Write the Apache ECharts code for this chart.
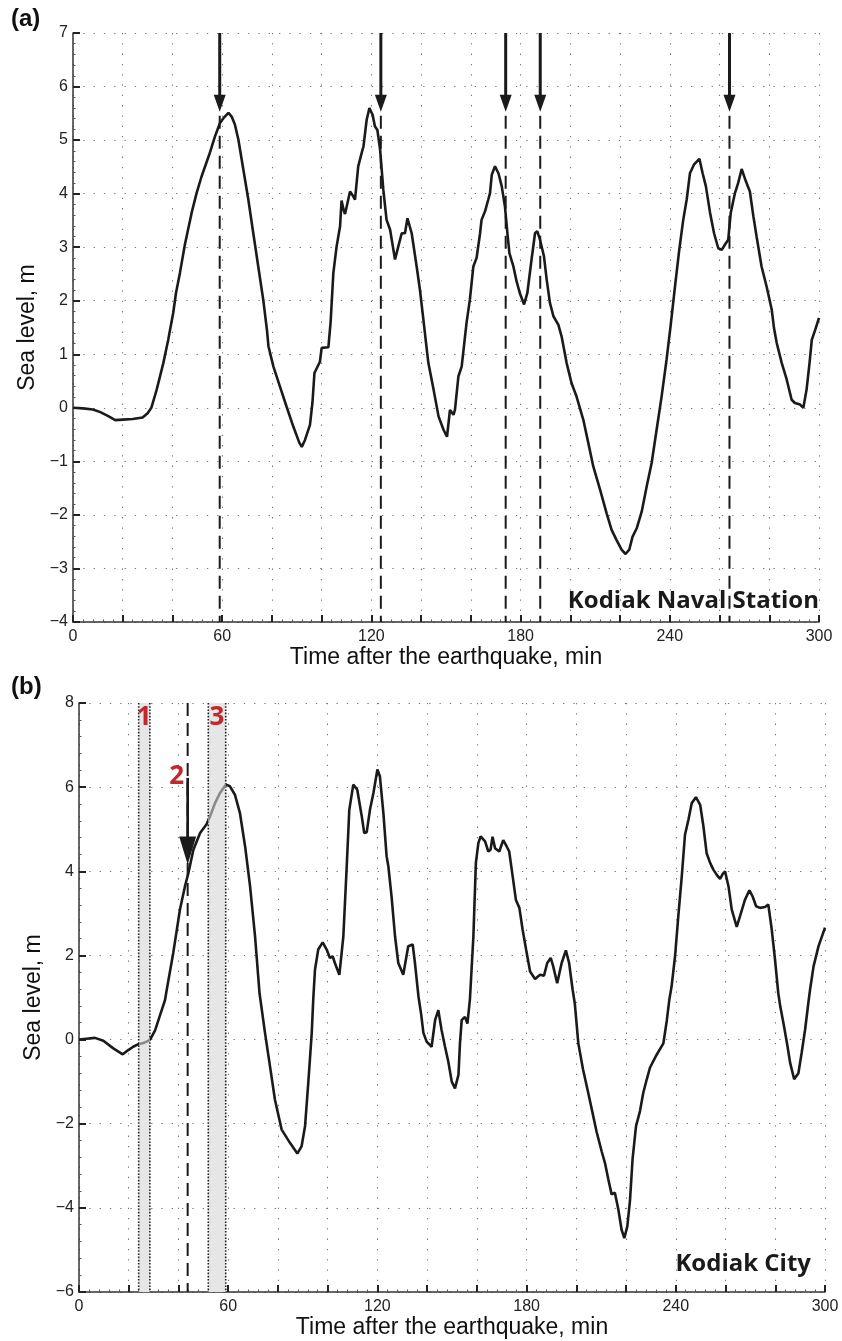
<!DOCTYPE html>
<html>
<head>
<meta charset="utf-8">
<script src="https://cdn.jsdelivr.net/npm/echarts@6/dist/echarts.min.js"></script>
<style>
html,body{margin:0;padding:0;background:#fff;}
#chart{width:842px;height:1341px;}
</style>
</head>
<body>
<div id="chart"></div>
<script>
// ---------- DATA ----------
// Panel (a): Kodiak Naval Station
const timeA = [0,4,8,11,14,17,20,24,28,30,31.5,33.6,36.3,38.3,39.2,40.3,41.4,43,45,47.7,49.7,51.7,54.8,57.1,59.1,60.5,62.5,63.8,65.1,66.5,68.5,70.5,72.5,74.5,76.5,78,78.6,80.6,83.2,85.9,88.6,91,92,93.3,95.3,96.3,97.1,99.3,100,102.7,103.6,104.7,106,107.4,108,108.8,109.4,110,111.4,112.7,113.4,114.7,116.1,116.8,118.1,119.2,120.5,121.4,122.4,123.5,124.8,126.1,127.5,129.5,130.8,132.2,133.5,134.5,136.2,138.2,139.5,140.9,142,142.9,145,147,149,150.4,151.6,152.4,153,153.6,155,156.3,157.5,158.3,159.6,161,162.3,163.7,164.3,165.7,167,167.7,168.4,169.7,171.1,172.4,173.7,174.7,175.5,177.1,178.4,179.7,181.4,182.7,184.4,185.8,186.7,187.8,189.4,190.5,191.8,193.2,195.2,196.5,198.5,200.5,202.5,205.2,207.2,209.2,211.9,214.6,216.6,218.6,220.6,222.2,223.7,225,226.7,228.7,230.7,232.7,234.7,236.7,238.7,240.3,242.1,243.8,245.4,246.8,248.1,249.7,251.9,253.2,254.5,256.2,257.8,259.5,260.9,262.2,263.5,264.5,266.2,267.5,268.9,270.6,272.2,273.6,274.9,276.9,278.9,281,281.9,283,285,287,289,290.3,292.4,293.7,295,296.2,297.1,298.5,300];
const levelA = [0,-0.01,-0.03,-0.08,-0.15,-0.23,-0.22,-0.21,-0.18,-0.1,0,0.33,0.83,1.27,1.5,1.77,2.14,2.52,3.05,3.64,4.01,4.32,4.73,5.07,5.32,5.41,5.51,5.44,5.29,5.01,4.45,3.89,3.26,2.64,2.02,1.45,1.15,0.77,0.4,0.02,-0.35,-0.65,-0.73,-0.6,-0.32,0.1,0.65,0.86,1.12,1.13,1.6,2.52,3.01,3.39,3.87,3.7,3.62,3.64,4.04,3.95,3.89,4.51,4.76,4.88,5.38,5.6,5.47,5.26,5.19,4.82,4.07,3.51,3.33,2.77,3.01,3.26,3.26,3.54,3.26,2.64,2.21,1.65,1.2,0.84,0.34,-0.16,-0.41,-0.54,-0.04,-0.05,-0.13,-0.04,0.59,0.77,1.27,1.6,2.02,2.64,2.8,3.26,3.51,3.67,3.89,4.01,4.35,4.51,4.38,4.14,3.76,3.26,2.89,2.64,2.36,2.14,1.93,2.14,2.77,3.26,3.3,3.14,2.83,2.39,1.96,1.71,1.55,1.33,0.84,0.46,0.21,-0.22,-0.65,-1.09,-1.52,-1.97,-2.28,-2.47,-2.65,-2.73,-2.65,-2.41,-2.25,-1.94,-1.47,-1.03,-0.41,0.21,0.9,1.52,2.27,2.95,3.51,3.89,4.38,4.54,4.65,4.38,4.14,3.64,3.26,2.98,2.95,3.05,3.14,3.64,4.01,4.2,4.46,4.23,4.04,3.58,3.2,2.64,2.27,1.83,1.49,1.21,0.84,0.53,0.15,0.09,0.06,0,0.34,0.84,1.27,1.46,1.68];
const eventTimesA = [59.0, 123.8, 174.0, 187.9, 264.0];

// Panel (b): Kodiak City
const timeB = [0,3,6.4,9.8,13.8,17.6,19.8,21.8,23.9,25.9,27.9,28.8,30.6,32.6,34.6,35.3,37.9,40.6,42.6,44,46,48.7,51.3,52.7,54.7,56.7,59.1,60.7,62.7,64.7,66.8,68.8,70.8,72.6,74.8,76.8,78.8,81.5,84.9,87.8,89.5,90.9,92.2,93.6,94.2,94.9,96.2,98,99.6,100.9,102,102.9,104.7,106.3,107.6,108.7,110.3,111.9,113.7,114.7,115.7,117,118.4,120,121,122.4,123.7,124.4,125.7,127.1,128.4,130.4,132.4,134.2,135.1,136.5,137.6,138.5,139.8,141.8,143.2,144.5,145.8,147.2,148.5,149.9,151.2,152.6,153.2,153.9,155.2,156.2,157.2,158.6,159.6,160.6,161.5,163.3,164.6,165.5,166.3,167.3,169,170.6,172,173,174.4,175.7,177.1,178.4,179.8,181.4,183.4,185.4,187,188.3,189.7,190.7,192.3,194.1,195.8,197.1,198.5,199.4,200.8,202.7,204.8,206.8,208.1,210.2,211.5,212.9,214.2,215.5,216.9,218.2,219.3,220.5,221.6,222.6,224,225.6,226.9,228.3,229.6,232.3,235,236.4,237.4,238.3,239.7,241,242.4,243.7,245.1,246.4,248.1,249.8,251.1,252.4,253.8,255.1,256.4,257.8,258.9,259.8,261.2,262.5,264.5,265.8,267.8,269.6,270.9,272.3,273.9,275.9,277.2,278.6,279.9,281.2,282,283.3,284.7,286,287.6,289.3,290.6,292,293.3,294,295.4,297.4,300];
const levelB = [0,0.02,0.04,-0.03,-0.21,-0.35,-0.25,-0.17,-0.11,-0.08,-0.03,0.02,0.22,0.58,0.94,1.19,2.06,3.09,3.64,3.96,4.51,4.91,5.12,5.31,5.62,5.86,6.06,6.02,5.82,5.39,4.59,3.64,2.45,1.1,0.16,-0.63,-1.43,-2.14,-2.46,-2.71,-2.54,-2.06,-1.03,0.16,0.95,1.66,2.14,2.31,2.14,1.94,1.98,1.82,1.54,2.45,4.04,5.46,6.06,5.94,5.31,4.91,4.93,5.46,5.86,6.42,6.26,5.39,4.36,4.12,3.4,2.45,1.82,1.54,2.22,2.26,1.82,1.03,0.6,0.16,-0.05,-0.17,0.46,0.7,0.23,-0.17,-0.52,-1,-1.16,-0.84,-0.09,0.46,0.54,0.38,0.95,2.45,4.2,4.67,4.83,4.71,4.47,4.51,4.82,4.55,4.47,4.74,4.59,4.47,3.88,3.32,3.13,2.61,2.14,1.62,1.44,1.54,1.52,1.82,1.94,1.74,1.34,1.82,2.12,1.82,1.19,0.85,-0.09,-0.71,-1.27,-1.82,-2.18,-2.66,-2.93,-3.33,-3.68,-3.64,-4.04,-4.52,-4.72,-4.44,-3.81,-2.85,-2.06,-1.7,-1.27,-0.95,-0.67,-0.36,-0.09,0.46,0.95,1.26,1.98,2.93,3.88,4.87,5.23,5.62,5.76,5.58,5.07,4.43,4.2,4.04,3.92,3.82,3.94,4,3.64,3.09,2.68,2.93,3.32,3.55,3.4,3.17,3.13,3.15,3.21,2.61,1.9,1.11,0.79,0.39,-0.08,-0.56,-0.94,-0.8,-0.32,0.24,0.87,1.19,1.74,2.22,2.66];
const bandStartB = [24.0, 52.0];
const bandEndB = [28.5, 59.0];
const bandLabelsB = ['1', '3'];
const eventTimesB = [43.7];
const eventLabelsB = ['2'];

// Tick labels
const xTickLabels = [0, 60, 120, 180, 240, 300];

// ---------- CHART ----------
const BLACK = '#1a1a1a';
const RED = '#c1272d';
const tickFont = {fontFamily: '"Liberation Sans", Arial, sans-serif', fontSize: 16, color: '#222'};
const nameFont = {fontFamily: '"Liberation Sans", Arial, sans-serif', fontSize: 23, color: '#111'};
const minus = v => (v < 0 ? '\u2212' + Math.abs(v) : String(v));

function xAxisCfg(gridIndex) {
  return {
    type: 'value', gridIndex, min: 0, max: 300, interval: 20,
    name: 'Time after the earthquake, min', nameLocation: 'middle', nameGap: 24,
    nameTextStyle: nameFont,
    axisLine: {onZero: false, lineStyle: {color: '#333', width: 1.5}},
    axisTick: {inside: true, length: 7, lineStyle: {color: '#222', width: 2}},
    minorTick: {show: true, splitNumber: 5, length: 2.5, lineStyle: {color: '#555', width: 1}},
    axisLabel: Object.assign({margin: 7, formatter: v => (xTickLabels.indexOf(v) >= 0 ? String(v) : '')}, tickFont),
    splitLine: {show: true, lineStyle: {color: '#777', width: 1.1, type: [1.3, 9]}}
  };
}
function yAxisCfg(gridIndex, min, max, interval) {
  return {
    type: 'value', gridIndex, min, max, interval,
    name: 'Sea level, m', nameLocation: 'middle', nameGap: 30,
    nameTextStyle: nameFont,
    axisLine: {show: true, onZero: false, lineStyle: {color: '#333', width: 1.5}},
    axisTick: {show: true, inside: true, length: 7, lineStyle: {color: '#222', width: 2}},
    minorTick: {show: true, splitNumber: 5, length: 2.5, lineStyle: {color: '#555', width: 1}},
    axisLabel: Object.assign({margin: 5, formatter: minus}, tickFont),
    splitLine: {show: true, lineStyle: {color: '#777', width: 1.1, type: [1.3, 9]}}
  };
}

const zip = (a, b) => a.map((t, i) => [t, b[i]]);

const chart = echarts.init(document.getElementById('chart'), null, {renderer: 'canvas'});

const option = {
  backgroundColor: '#fff',
  animation: false,
  grid: [
    {left: 73, top: 33, width: 746, height: 589},
    {left: 79, top: 703, width: 746, height: 589}
  ],
  xAxis: [xAxisCfg(0), xAxisCfg(1)],
  yAxis: [yAxisCfg(0, -4, 7, 1), yAxisCfg(1, -6, 8, 2)],
  visualMap: [{
    type: 'piecewise', show: false, dimension: 0, seriesIndex: 3,
    pieces: bandStartB.map((s, i) => ({gte: s, lte: bandEndB[i], color: '#8a8a8a'})),
    outOfRange: {color: BLACK}
  }],
  series: [
    {
      type: 'line', xAxisIndex: 0, yAxisIndex: 0, data: zip(timeA, levelA),
      showSymbol: false, symbol: 'none', lineStyle: {color: BLACK, width: 2.6}, z: 3
    },
    {
      type: 'custom', xAxisIndex: 0, yAxisIndex: 0, z: 4,
      data: eventTimesA.map(t => [t, 0]),
      encode: {x: 0, y: 1},
      renderItem: function (params, api) {
        const t = api.value(0);
        const top = api.coord([t, 7]);
        const tip = api.coord([t, 5.53]);
        const bot = api.coord([t, -4]);
        const hh = 17, hw = 12;
        return {type: 'group', children: [
          {type: 'line', shape: {x1: top[0], y1: top[1], x2: tip[0], y2: tip[1] - hh + 2}, style: {stroke: BLACK, lineWidth: 3}},
          {type: 'polygon', shape: {points: [[tip[0] - hw / 2, tip[1] - hh], [tip[0] + hw / 2, tip[1] - hh], [tip[0], tip[1]]]}, style: {fill: BLACK}},
          {type: 'line', shape: {x1: tip[0], y1: tip[1] + 4, x2: bot[0], y2: bot[1]}, style: {stroke: BLACK, lineWidth: 2, lineDash: [13, 7]}}
        ]};
      }
    },
    {
      type: 'custom', xAxisIndex: 1, yAxisIndex: 1, z: 1,
      data: bandStartB.map((s, i) => [s, bandEndB[i]]),
      encode: {x: [0, 1]},
      renderItem: function (params, api) {
        const p0 = api.coord([api.value(0), 8]);
        const p1 = api.coord([api.value(1), -6]);
        const x0 = p0[0], x1 = p1[0], yT = p0[1], yB = p1[1];
        const border = {stroke: '#222', lineWidth: 1.6, lineDash: [1.6, 1.6]};
        return {type: 'group', children: [
          {type: 'rect', shape: {x: x0, y: yT, width: x1 - x0, height: yB - yT}, style: {fill: '#e6e6e6'}},
          {type: 'line', shape: {x1: x0, y1: yT, x2: x0, y2: yB}, style: border},
          {type: 'line', shape: {x1: x1, y1: yT, x2: x1, y2: yB}, style: border},
          {type: 'text', x: (x0 + x1) / 2, y: yT + 15, style: {text: bandLabelsB[params.dataIndex], fill: RED, font: 'bold 26px "Open Sans", sans-serif', align: 'center', verticalAlign: 'middle'}}
        ]};
      }
    },
    {
      type: 'line', xAxisIndex: 1, yAxisIndex: 1, data: zip(timeB, levelB),
      showSymbol: false, symbol: 'none', lineStyle: {width: 2.6}, z: 3
    },
    {
      type: 'custom', xAxisIndex: 1, yAxisIndex: 1, z: 4,
      data: eventTimesB.map(t => [t, 0]),
      encode: {x: 0, y: 1},
      renderItem: function (params, api) {
        const t = api.value(0);
        const top = api.coord([t, 8]);
        const start = api.coord([t, 6.22]);
        const tip = api.coord([t, 4.16]);
        const bot = api.coord([t, -6]);
        const hh = 28, hw = 17;
        return {type: 'group', children: [
          {type: 'line', shape: {x1: top[0], y1: top[1], x2: bot[0], y2: bot[1]}, style: {stroke: BLACK, lineWidth: 2, lineDash: [13, 7]}},
          {type: 'line', shape: {x1: start[0], y1: start[1], x2: tip[0], y2: tip[1] - hh + 2}, style: {stroke: BLACK, lineWidth: 2.7}},
          {type: 'polygon', shape: {points: [[tip[0] - hw / 2, tip[1] - hh], [tip[0] + hw / 2, tip[1] - hh], [tip[0], tip[1]]]}, style: {fill: BLACK}},
          {type: 'text', x: start[0] - 11, y: start[1] - 1, style: {text: eventLabelsB[params.dataIndex], fill: RED, font: 'bold 26px "Open Sans", sans-serif', align: 'center', verticalAlign: 'middle'}}
        ]};
      }
    }
  ],
  graphic: [
    {type: 'text', x: 11, y: 7, style: {text: '(a)', font: 'bold 24px "Liberation Sans", Arial, sans-serif', fill: '#111'}},
    {type: 'text', x: 11, y: 675, style: {text: '(b)', font: 'bold 24px "Liberation Sans", Arial, sans-serif', fill: '#111'}},
    {type: 'text', x: 819, y: 601, z: 10, style: {text: 'Kodiak Naval Station', font: 'bold 24px "Open Sans", sans-serif', fill: '#1a1a1a', align: 'right', verticalAlign: 'middle'}},
    {type: 'text', x: 811, y: 1264, z: 10, style: {text: 'Kodiak City', font: 'bold 24px "Open Sans", sans-serif', fill: '#1a1a1a', align: 'right', verticalAlign: 'middle'}}
  ]
};
chart.setOption(option);
</script>
</body>
</html>
